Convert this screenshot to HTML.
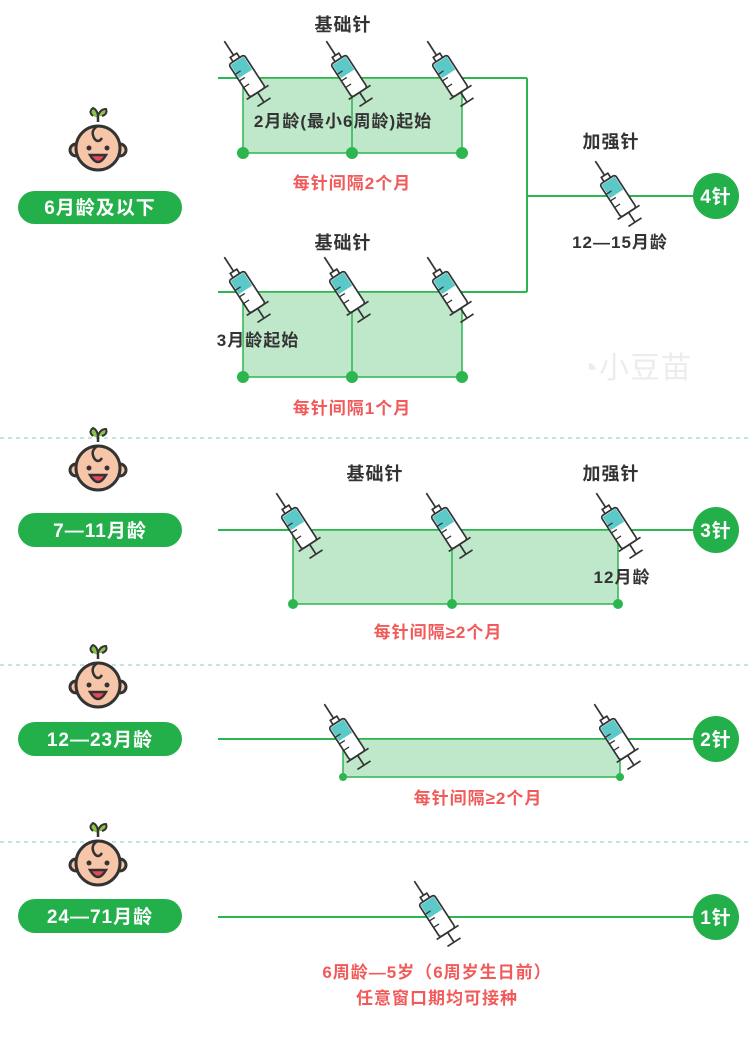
<!DOCTYPE html>
<html><head><meta charset="utf-8"><style>
body{margin:0;background:#fff;}
svg text{font-family:"Liberation Sans","Noto Sans CJK SC",sans-serif;font-weight:bold;letter-spacing:1px;}
</style></head><body>
<svg width="751" height="1034" viewBox="0 0 751 1034" xmlns="http://www.w3.org/2000/svg">
<defs>
<g id="syr">
  <g transform="rotate(-33) scale(1.3)">
    <line x1="0" y1="-32" x2="0" y2="-18" stroke="#333" stroke-width="1.3"/>
    <rect x="-3" y="-19" width="6" height="4" fill="#fff" stroke="#333" stroke-width="1.3"/>
    <rect x="-7" y="-15" width="14" height="30" rx="2" fill="#fff" stroke="#333" stroke-width="1.3"/>
    <rect x="-6" y="-14" width="12" height="12" fill="#5cc9c9"/>
    <line x1="-7" y1="-6" x2="-2" y2="-6" stroke="#333" stroke-width="1"/>
    <line x1="-7" y1="0" x2="-2" y2="0" stroke="#333" stroke-width="1"/>
    <line x1="-7" y1="6" x2="-2" y2="6" stroke="#333" stroke-width="1"/>
    <line x1="-10" y1="15" x2="10" y2="15" stroke="#333" stroke-width="1.3"/>
    <line x1="0" y1="15" x2="0" y2="24" stroke="#333" stroke-width="1.3"/>
    <line x1="-6" y1="24" x2="6" y2="24" stroke="#333" stroke-width="1.3"/>
  </g>
</g>
<g id="baby">
  <path d="M0,-28 q0,-8 -5,-10 q-5,4 0,8 M0,-30 q2,-7 8,-7 q2,5 -4,7" fill="#8bc34a" stroke="#333" stroke-width="2"/>
  <line x1="0" y1="-30" x2="0" y2="-24" stroke="#333" stroke-width="2.5"/>
  <circle cx="-22" cy="4" r="6" fill="#f7c6a8" stroke="#333" stroke-width="3"/>
  <circle cx="22" cy="4" r="6" fill="#f7c6a8" stroke="#333" stroke-width="3"/>
  <circle cx="0" cy="2" r="22" fill="#f7c6a8" stroke="#333" stroke-width="3"/>
  <path d="M0,-20 q-8,4 -4,12 q4,6 8,0" fill="none" stroke="#333" stroke-width="2.5"/>
  <circle cx="-9" cy="2" r="2.5" fill="#333"/><circle cx="9" cy="2" r="2.5" fill="#333"/>
  <path d="M-8,9 q8,14 16,0 z" fill="#e9495a" stroke="#333" stroke-width="2.5"/>
</g>
</defs>

<g stroke="#2db54f" stroke-width="2" fill="none">
  <line x1="218" y1="78" x2="527" y2="78"/>
  <line x1="218" y1="292" x2="527" y2="292"/>
  <line x1="527" y1="78" x2="527" y2="292"/>
  <line x1="527" y1="196" x2="700" y2="196"/>
  <line x1="218" y1="530" x2="700" y2="530"/>
  <line x1="218" y1="739" x2="700" y2="739"/>
  <line x1="218" y1="917" x2="700" y2="917"/>
</g>
<g fill="#bfe8cb" stroke="#2db54f" stroke-width="1.5">
  <rect x="243" y="78" width="219" height="75"/>
  <line x1="352" y1="78" x2="352" y2="153"/>
  <rect x="243" y="292" width="219" height="85"/>
  <line x1="352" y1="292" x2="352" y2="377"/>
  <rect x="293" y="530" width="325" height="74"/>
  <line x1="452" y1="530" x2="452" y2="604"/>
  <rect x="343" y="739" width="277" height="38"/>
</g>
<g fill="#2db54f">
  <circle cx="243" cy="153" r="6"/><circle cx="352" cy="153" r="6"/><circle cx="462" cy="153" r="6"/>
  <circle cx="243" cy="377" r="6"/><circle cx="352" cy="377" r="6"/><circle cx="462" cy="377" r="6"/>
  <circle cx="293" cy="604" r="5"/><circle cx="452" cy="604" r="5"/><circle cx="618" cy="604" r="5"/>
  <circle cx="343" cy="777" r="4"/><circle cx="620" cy="777" r="4"/>
</g>
<g stroke="#9ad8cf" stroke-width="1.2" stroke-dasharray="4,4">
  <line x1="0" y1="438" x2="751" y2="438"/>
  <line x1="0" y1="665" x2="751" y2="665"/>
  <line x1="0" y1="842" x2="751" y2="842"/>
</g>

<use href="#syr" x="247" y="76"/><use href="#syr" x="349" y="76"/><use href="#syr" x="450" y="76"/>
<use href="#syr" x="247" y="292"/><use href="#syr" x="347" y="292"/><use href="#syr" x="450" y="292"/>
<use href="#syr" x="618" y="196"/>
<use href="#syr" x="299" y="528"/><use href="#syr" x="449" y="528"/><use href="#syr" x="619" y="528"/>
<use href="#syr" x="347" y="739"/><use href="#syr" x="617" y="739"/>
<use href="#syr" x="437" y="916"/>

<use href="#baby" x="98" y="146"/>
<use href="#baby" x="98" y="466"/>
<use href="#baby" x="98" y="683"/>
<use href="#baby" x="98" y="861"/>

<g fill="#23b04a">
  <rect x="18" y="191" width="164" height="33" rx="16.5"/>
  <rect x="18" y="513" width="164" height="34" rx="17"/>
  <rect x="18" y="722" width="164" height="34" rx="17"/>
  <rect x="18" y="899" width="164" height="34" rx="17"/>
  <circle cx="716" cy="196" r="23"/><circle cx="716" cy="530" r="23"/>
  <circle cx="716" cy="739" r="23"/><circle cx="716" cy="917" r="23"/>
</g>
<g fill="#fff" font-size="19" text-anchor="middle">
  <text x="100" y="214">6月龄及以下</text>
  <text x="100" y="537">7—11月龄</text>
  <text x="100" y="746">12—23月龄</text>
  <text x="100" y="923">24—71月龄</text>
  <text x="716" y="203">4针</text><text x="716" y="537">3针</text>
  <text x="716" y="746">2针</text><text x="716" y="924">1针</text>
</g>
<g fill="#333" font-size="18" text-anchor="middle">
  <text x="343" y="31">基础针</text>
  <text x="343" y="249">基础针</text>
  <text x="611" y="148">加强针</text>
  <text x="375" y="480">基础针</text>
  <text x="611" y="480">加强针</text>
  <text x="343" y="127" font-size="17">2月龄(最小6周龄)起始</text>
  <text x="258" y="346" font-size="17">3月龄起始</text>
  <text x="620" y="248" font-size="17">12—15月龄</text>
  <text x="622" y="583" font-size="17">12月龄</text>
</g>
<g fill="#f25a5a" font-size="17" text-anchor="middle">
  <text x="352" y="189">每针间隔2个月</text>
  <text x="352" y="414">每针间隔1个月</text>
  <text x="438" y="638">每针间隔≥2个月</text>
  <text x="478" y="804">每针间隔≥2个月</text>
  <text x="437" y="978">6周龄—5岁（6周岁生日前）</text>
  <text x="437" y="1004">任意窗口期均可接种</text>
</g>
<text x="636" y="378" fill="#ececec" font-size="30" text-anchor="middle" style="font-weight:normal">◔小豆苗</text>
</svg>
</body></html>
